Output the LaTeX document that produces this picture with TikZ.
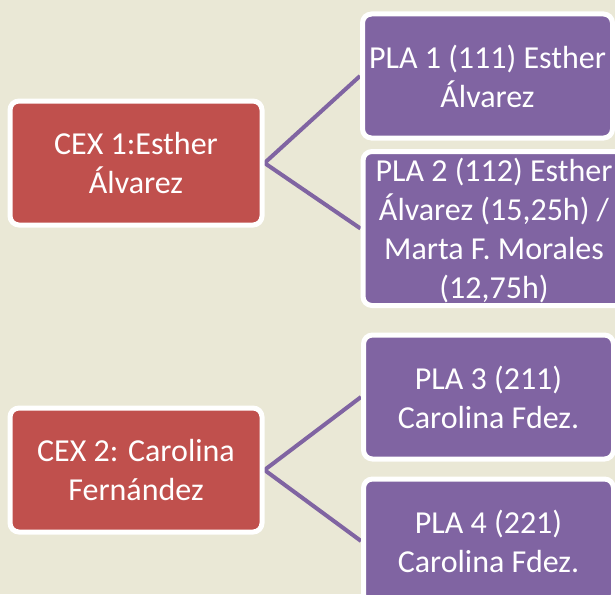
\documentclass[tikz,border=0pt]{standalone}
\usepackage{fontspec}
\setmainfont{Carlito}
\usetikzlibrary{backgrounds}
\definecolor{bgc}{RGB}{234,232,214}
\definecolor{cexred}{RGB}{192,80,77}
\definecolor{plapurple}{RGB}{128,100,162}
\tikzset{
  box/.style={draw=white, line width=5pt, rounded corners=9pt, text=white,
    align=center, font=\fontsize{32}{39}\selectfont, inner sep=0pt},
  cexbox/.style={box, fill=cexred, minimum width=252pt, minimum height=124pt},
  plabox/.style={box, fill=plapurple, minimum width=250pt, minimum height=124pt},
  link/.style={draw=plapurple, line width=4pt}
}
\begin{document}
\begin{tikzpicture}[x=1pt,y=1pt]
\useasboundingbox (0,0) rectangle (615,-594);
\clip (0,0) rectangle (615,-594);
\node[cexbox] (c1) at (136,-163) {CEX 1:Esther\\Álvarez};
\node[cexbox] (c2) at (136,-470) {CEX 2: Carolina\\Fernández};
\node[plabox] (p1) at (487.5,-76) {PLA 1 (111) Esther\\Álvarez};
\node[plabox, minimum width=262pt, minimum height=154pt, text depth=0pt] (p2) at (494,-228.5) {PLA 2 (112) Esther\\Álvarez (15,25h) /\\Marta F. Morales\\(12,75h)};
\node[plabox] (p3) at (488.5,-397) {PLA 3 (211)\\Carolina Fdez.};
\node[plabox] (p4) at (488.5,-541) {PLA 4 (221)\\Carolina Fdez.};
\begin{scope}[on background layer]
\fill[bgc] (0,0) rectangle (615,-594);
\draw[link] (c1.east) -- (p1.west);
\draw[link] (c1.east) -- (p2.west);
\draw[link] (c2.east) -- (p3.west);
\draw[link] (c2.east) -- (p4.west);
\end{scope}
\end{tikzpicture}
\end{document}
